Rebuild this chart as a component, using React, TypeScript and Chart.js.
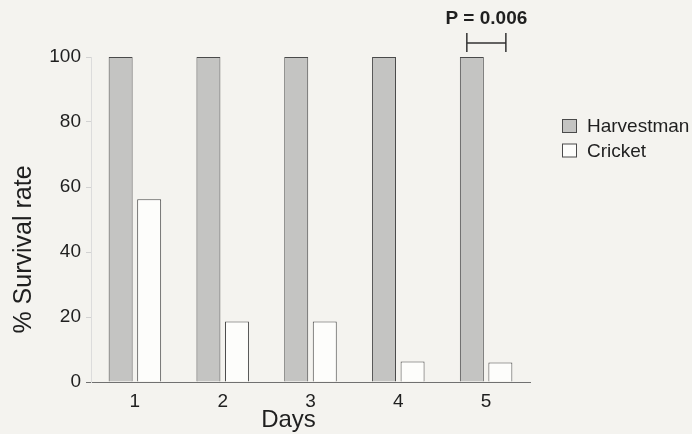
import React, { useEffect, useRef } from "react";
import { Chart, registerables } from "chart.js";

Chart.register(...registerables);

const days = ["1", "2", "3", "4", "5"];
const harvestman = [100, 100, 100, 100, 100];
const cricket = [56.2, 18.6, 18.6, 6.3, 6.0];
const seriesNames = ["Harvestman", "Cricket"];
const yMin = 0;
const yMax = 100;
const yStep = 20;
const pLabel = "P = 0.006";
const xTitle = "Days";
const yTitle = "% Survival rate";

const FAMILY = '"Liberation Sans", Arial, Helvetica, sans-serif';
const BG = "#f4f3ef";
const TEXT = "#1f1f1f";
const H_FILL = "#c4c4c2";
const C_FILL = "#fdfdfb";
const EDGE = "#4a4a4a";

const decor = {
  id: "decor",
  beforeDraw(chart: any) {
    const ctx = chart.ctx;
    ctx.save();
    ctx.fillStyle = BG;
    ctx.fillRect(0, 0, chart.width, chart.height);
    ctx.restore();
  },
  afterDraw(chart: any) {
    const ctx = chart.ctx;
    const ca = chart.chartArea;
    ctx.save();
    ctx.fillStyle = TEXT;
    // axis titles
    ctx.font = `24px ${FAMILY}`;
    ctx.textAlign = "center";
    ctx.textBaseline = "alphabetic";
    ctx.fillText(xTitle, (ca.left + ca.right) / 2 - 22, 427);
    ctx.save();
    ctx.translate(31, (ca.top + ca.bottom) / 2 + 30);
    ctx.rotate(-Math.PI / 2);
    ctx.font = `25px ${FAMILY}`;
    ctx.fillText(yTitle, 0, 0);
    ctx.restore();

    // legend
    const lx = ca.right + 32;
    const rows = [126, 150.5];
    const fills = [H_FILL, C_FILL];
    ctx.font = `19px ${FAMILY}`;
    ctx.textAlign = "left";
    ctx.textBaseline = "middle";
    seriesNames.forEach((name, i) => {
      ctx.fillStyle = fills[i];
      ctx.fillRect(lx + 0.5, rows[i] - 6.5, 14, 13);
      ctx.strokeStyle = EDGE;
      ctx.lineWidth = 1;
      ctx.strokeRect(lx + 0.5, rows[i] - 6.5, 14, 13);
      ctx.fillStyle = TEXT;
      ctx.fillText(name, lx + 25, rows[i] + 1);
    });

    // significance bracket on last day
    const last = days.length - 1;
    const h = chart.getDatasetMeta(0).data[last];
    const c = chart.getDatasetMeta(1).data[last];
    if (h && c) {
      const x1 = h.x - 5;
      const x2 = c.x + 5.5;
      const yTop = h.y - 24;
      ctx.strokeStyle = "#333";
      ctx.lineWidth = 1.5;
      ctx.beginPath();
      ctx.moveTo(x1, yTop);
      ctx.lineTo(x1, yTop + 19);
      ctx.moveTo(x2, yTop);
      ctx.lineTo(x2, yTop + 19);
      ctx.moveTo(x1, yTop + 10);
      ctx.lineTo(x2, yTop + 10);
      ctx.stroke();
      ctx.fillStyle = TEXT;
      ctx.font = `bold 19px ${FAMILY}`;
      ctx.textAlign = "center";
      ctx.textBaseline = "middle";
      ctx.fillText(pLabel, (x1 + x2) / 2, 18.5);
    }
    ctx.restore();
  },
};

export default function App() {
  const ref = useRef<HTMLCanvasElement | null>(null);
  useEffect(() => {
    if (!ref.current) return;
    const chart = new Chart(ref.current, {
      type: "bar",
      data: {
        labels: days,
        datasets: [
          {
            label: seriesNames[0],
            data: harvestman,
            backgroundColor: H_FILL,
            borderColor: EDGE,
            borderWidth: 1,
            categoryPercentage: 0.65,
            barPercentage: 0.84,
          },
          {
            label: seriesNames[1],
            data: cricket,
            backgroundColor: C_FILL,
            borderColor: EDGE,
            borderWidth: 1,
            categoryPercentage: 0.65,
            barPercentage: 0.84,
          },
        ],
      },
      options: {
        animation: false,
        responsive: false,
        maintainAspectRatio: false,
        layout: { padding: { left: 0, right: 162, top: 57, bottom: 0 } },
        plugins: {
          legend: { display: false },
          tooltip: { enabled: false },
        },
        scales: {
          x: {
            grid: { display: false, drawTicks: false },
            border: { display: true, color: "#707070", width: 1 },
            ticks: { font: { family: FAMILY, size: 19 }, color: TEXT, padding: 8 },
            afterFit(s: any) {
              s.height = 52;
            },
          },
          y: {
            min: yMin,
            max: yMax,
            ticks: { stepSize: yStep, font: { family: FAMILY, size: 19 }, color: TEXT, padding: 5 },
            grid: {
              drawOnChartArea: false,
              drawTicks: true,
              tickLength: 5,
              color: (c: any) => (c.tick && c.tick.value === 0 ? "#707070" : "#d2d2d2"),
            },
            border: { display: true, color: "#dcdcdc", width: 1 },
            afterFit(s: any) {
              s.width = 91;
            },
          },
        },
      },
      plugins: [decor],
    });
    return () => chart.destroy();
  }, []);
  return (
    <div style={{ position: "absolute", left: 0, top: 0, width: 692, height: 434, background: BG }}>
      <canvas ref={ref} width={692} height={434} />
    </div>
  );
}
